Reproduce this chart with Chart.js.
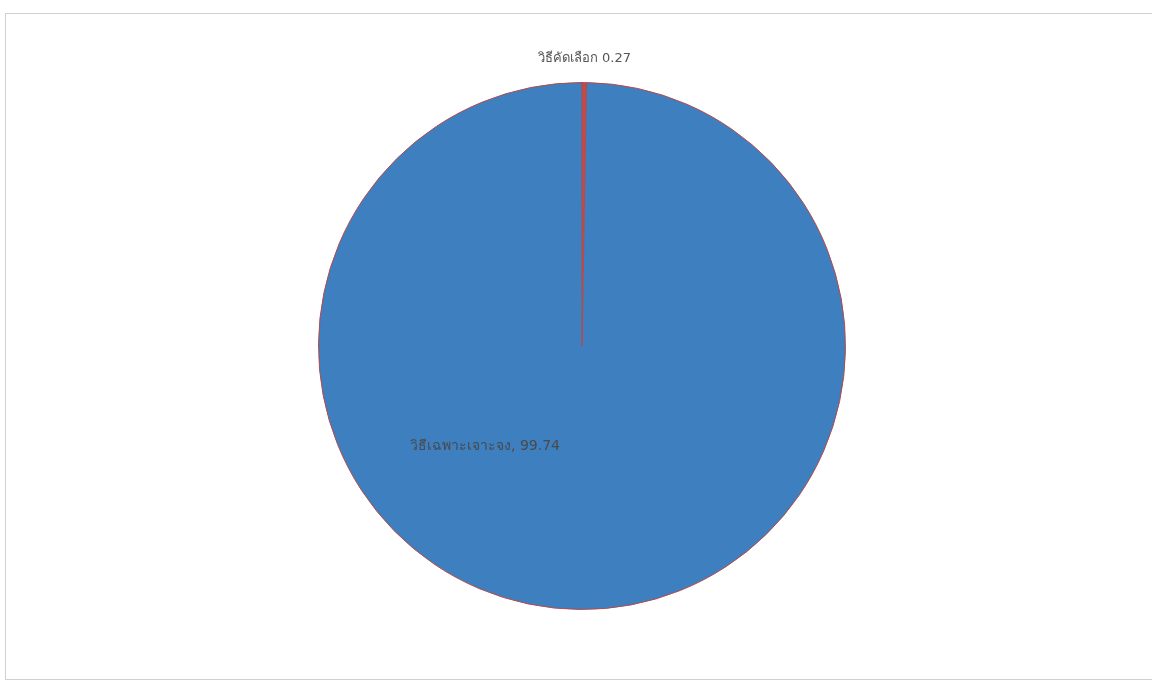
<!DOCTYPE html>
<html>
<head>
<meta charset="utf-8">
<script src="https://cdn.jsdelivr.net/npm/chart.js@4.4.0/dist/chart.umd.min.js"></script>
<style>
  html, body { margin: 0; padding: 0; background: #fff; }
  #frame {
    position: absolute; left: 5px; top: 13px; width: 1150px; height: 667px;
    border: 1px solid #d0d0d0; box-sizing: border-box;
  }
  #wrap { position: absolute; left: 0; top: 0; width: 1152px; height: 687px; }
</style>
</head>
<body>
<div id="frame"></div>
<div id="wrap"><canvas id="pieChart" width="1152" height="687"></canvas></div>
<script>
// ==================== Data ====================
const methods = ['วิธีคัดเลือก', 'วิธีเฉพาะเจาะจง'];
const shares = [0.27, 99.74];
const sliceColors = ['#c24b4b', '#3d7fbf'];

// ==================== Label plugin ====================
// small slice: label outside above, big slice: label inside lower-left
const sliceLabels = {
    id: 'sliceLabels',
    afterDatasetsDraw(chart) {
        const ctx = chart.ctx;
        const arcs = chart.getDatasetMeta(0).data;
        ctx.save();
        ctx.textAlign = 'center';
        ctx.textBaseline = 'middle';
        arcs.forEach((arc, i) => {
            const mid = (arc.startAngle + arc.endAngle) / 2;
            let x, y, text;
            if (i === 0) {
                x = arc.x + Math.cos(mid) * (arc.outerRadius + 24);
                y = arc.y + Math.sin(mid) * (arc.outerRadius + 24);
                text = methods[i] + ' ' + shares[i];
                ctx.fillStyle = '#555';
                ctx.font = '13px "DejaVu Sans", "Noto Sans", sans-serif';
            } else {
                const ang = 134 * Math.PI / 180;
                x = arc.x + Math.cos(ang) * arc.outerRadius * 0.53;
                y = arc.y + Math.sin(ang) * arc.outerRadius * 0.53;
                text = methods[i] + ', ' + shares[i];
                ctx.fillStyle = '#4a4a4a';
                ctx.font = '14px "DejaVu Sans", "Noto Sans", sans-serif';
            }
            ctx.fillText(text, x, y);
        });
        ctx.restore();
    }
};

// ==================== Chart ====================
const ctxPie = document.getElementById('pieChart').getContext('2d');
const pieChart = new Chart(ctxPie, {
    type: 'pie',
    data: {
        labels: methods,
        datasets: [{
            data: shares,
            backgroundColor: sliceColors,
            borderColor: '#b54a4a',
            borderWidth: 1
        }]
    },
    options: {
        responsive: false,
        animation: false,
        layout: { padding: { top: 82, bottom: 77, left: 318, right: 306 } },
        plugins: {
            legend: { display: false },
            tooltip: { enabled: false }
        }
    },
    plugins: [sliceLabels]
});
</script>
</body>
</html>
